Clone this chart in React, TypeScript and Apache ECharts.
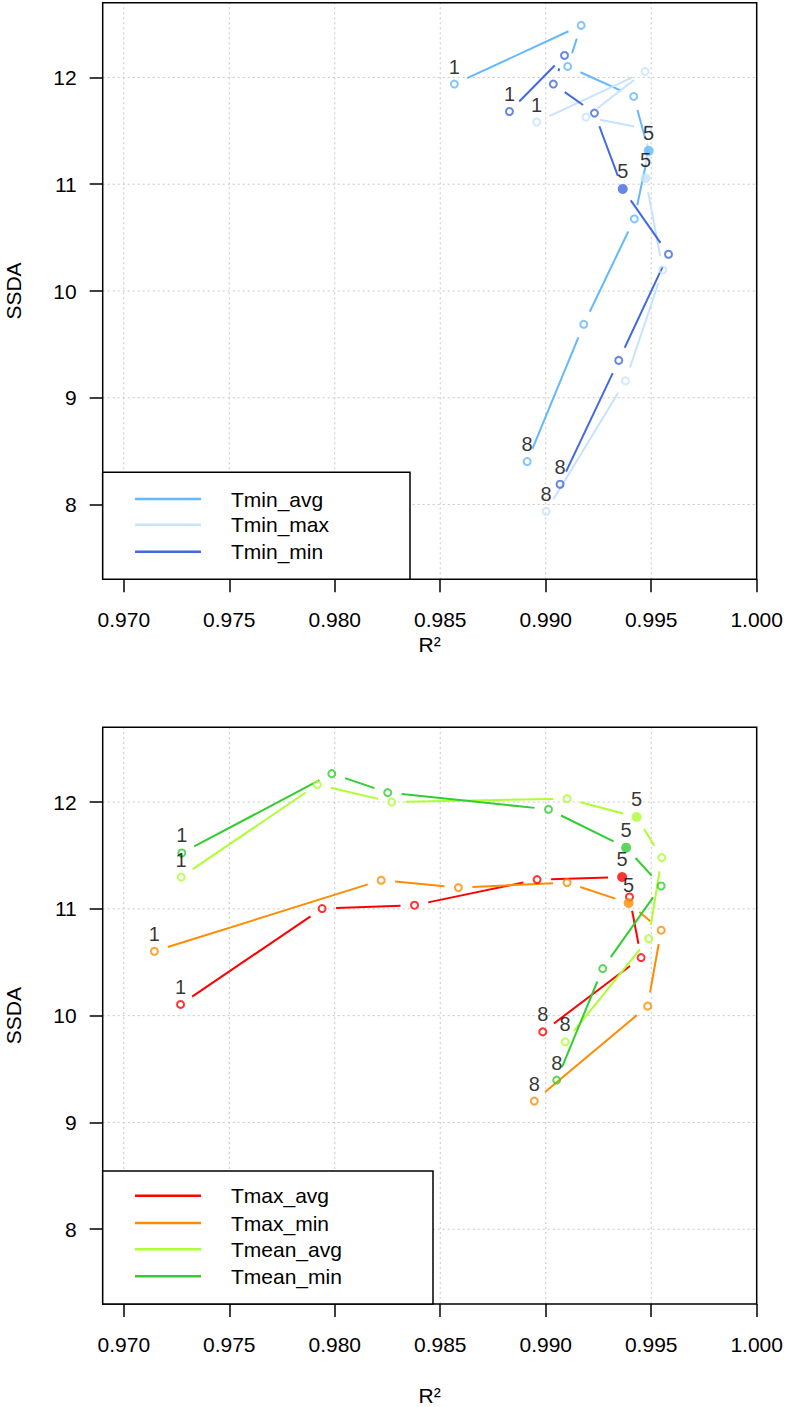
import React, { useEffect, useRef } from "react";
import * as echarts from "echarts";

// ---- data ----
const xTicks = [0.97, 0.975, 0.98, 0.985, 0.99, 0.995, 1.0];
const yTicks = [8, 9, 10, 11, 12];
const pointLabels = ["1", "", "", "", "5", "", "", "8"];
const filledIndex = 4;

const topNames = ["Tmin_avg", "Tmin_max", "Tmin_min"];
const topColors = ["#63B8FF", "#C6E2FF", "#4169E1"];
const tminAvgR2 = [0.98567, 0.99168, 0.99104, 0.99417, 0.99488, 0.9942, 0.9918, 0.98912];
const tminAvgSSDA = [11.938, 12.488, 12.103, 11.822, 11.313, 10.675, 9.688, 8.403];
const tminMaxR2 = [0.98957, 0.99471, 0.99191, 0.99485, 0.99473, 0.99555, 0.99378, 0.99002];
const tminMaxSSDA = [11.582, 12.056, 11.629, 11.515, 11.057, 10.197, 9.159, 7.937];
const tminMinR2 = [0.98828, 0.99089, 0.99036, 0.99231, 0.99365, 0.99582, 0.99346, 0.99068];
const tminMinSSDA = [11.681, 12.206, 11.938, 11.666, 10.956, 10.344, 9.35, 8.19];

const bottomNames = ["Tmax_avg", "Tmax_min", "Tmean_avg", "Tmean_min"];
const bottomColors = ["#FF0000", "#FF8C00", "#ADFF2F", "#32CD32"];
const tmaxAvgR2 = [0.97269, 0.9794, 0.98378, 0.98959, 0.99362, 0.99397, 0.99452, 0.98986];
const tmaxAvgSSDA = [10.105, 11.003, 11.034, 11.274, 11.298, 11.111, 10.544, 9.848];
const tmaxMinR2 = [0.97145, 0.9822, 0.98586, 0.99101, 0.99393, 0.99547, 0.99483, 0.98946];
const tmaxMinSSDA = [10.603, 11.268, 11.199, 11.246, 11.055, 10.8, 10.089, 9.2];
const tmeanAvgR2 = [0.97272, 0.97917, 0.9827, 0.99101, 0.99431, 0.9955, 0.99488, 0.99092];
const tmeanAvgSSDA = [11.298, 12.163, 12.0, 12.032, 11.86, 11.48, 10.722, 9.755];
const tmeanMinR2 = [0.97275, 0.97986, 0.98251, 0.99013, 0.99381, 0.99547, 0.9927, 0.99052];
const tmeanMinSSDA = [11.523, 12.266, 12.088, 11.932, 11.573, 11.214, 10.441, 9.397];

const xMin = 0.969;
const xMax = 1.0;
const yMin = 7.3;
const yMax = 12.7;

const FONT = "'Liberation Sans', Arial, sans-serif";

export default function App() {
  const ref = useRef<HTMLDivElement>(null);
  useEffect(() => {
    if (!ref.current) return;
    const chart = echarts.init(ref.current, null, { renderer: "svg" });

    const GAP = 14;
    const segSeries = (color: string, xs: number[], ys: number[], g: number) => ({
      type: "custom",
      xAxisIndex: g,
      yAxisIndex: g,
      silent: true,
      z: 3,
      data: xs.slice(0, -1).map((x, i) => [x, ys[i], xs[i + 1], ys[i + 1]]),
      renderItem: (params: any, api: any) => {
        const p1 = api.coord([api.value(0), api.value(1)]);
        const p2 = api.coord([api.value(2), api.value(3)]);
        const dx = p2[0] - p1[0];
        const dy = p2[1] - p1[1];
        const d = Math.sqrt(dx * dx + dy * dy);
        if (d <= 2 * GAP) return { type: "group", children: [] };
        const ux = dx / d;
        const uy = dy / d;
        return {
          type: "line",
          shape: {
            x1: p1[0] + ux * GAP,
            y1: p1[1] + uy * GAP,
            x2: p2[0] - ux * GAP,
            y2: p2[1] - uy * GAP,
          },
          style: { stroke: color, lineWidth: 2 },
        };
      },
    });

    const ptSeries = (name: string, color: string, xs: number[], ys: number[], g: number) => ({
      type: "scatter",
      name,
      xAxisIndex: g,
      yAxisIndex: g,
      silent: true,
      z: 4,
      data: xs.map((x, i) => ({
        value: [x, ys[i]],
        symbol: "circle",
        symbolSize: i === filledIndex ? 10 : 7,
        itemStyle:
          i === filledIndex
            ? { color, borderWidth: 0 }
            : { color: "rgba(0,0,0,0)", borderColor: color, borderWidth: 2 },
        label: {
          show: pointLabels[i] !== "",
          formatter: pointLabels[i],
        },
      })),
      label: {
        position: "top",
        distance: 3,
        color: "#000",
        fontSize: 20,
        fontFamily: FONT,
      },
    });

    const gridLines = (g: number) => [
      {
        type: "custom",
        xAxisIndex: g,
        yAxisIndex: g,
        silent: true,
        z: 1,
        data: xTicks.map((v) => [v]),
        renderItem: (params: any, api: any) => {
          const a = api.coord([api.value(0), yMin]);
          const b = api.coord([api.value(0), yMax]);
          return {
            type: "line",
            shape: { x1: a[0], y1: a[1], x2: b[0], y2: b[1] },
            style: { stroke: "#C8C8C8", lineWidth: 1, lineDash: [2, 3] },
          };
        },
      },
      {
        type: "custom",
        xAxisIndex: g,
        yAxisIndex: g,
        silent: true,
        z: 1,
        data: yTicks.map((v) => [v]),
        renderItem: (params: any, api: any) => {
          const a = api.coord([xMin, api.value(0)]);
          const b = api.coord([xMax, api.value(0)]);
          return {
            type: "line",
            shape: { x1: a[0], y1: a[1], x2: b[0], y2: b[1] },
            style: { stroke: "#C8C8C8", lineWidth: 1, lineDash: [2, 3] },
          };
        },
      },
    ];

    const xAxisCfg = (g: number, nameGap: number) => ({
      type: "value",
      gridIndex: g,
      min: xMin,
      max: xMax,
      name: "R²",
      nameLocation: "middle",
      nameGap,
      nameTextStyle: { fontSize: 21, fontFamily: FONT, color: "#000" },
      axisLine: { show: false },
      splitLine: { show: false },
      axisTick: {
        show: true,
        length: 13,
        lineStyle: { color: "#000", width: 1.5 },
        customValues: xTicks,
      },
      axisLabel: {
        show: true,
        margin: 30,
        fontSize: 21,
        fontFamily: FONT,
        color: "#000",
        customValues: xTicks,
        formatter: (v: number) => v.toFixed(3),
      },
    });

    const yAxisCfg = (g: number) => ({
      type: "value",
      gridIndex: g,
      min: yMin,
      max: yMax,
      name: "SSDA",
      nameLocation: "middle",
      nameGap: 79,
      nameTextStyle: { fontSize: 21, fontFamily: FONT, color: "#000" },
      axisLine: { show: false },
      splitLine: { show: false },
      axisTick: {
        show: true,
        length: 13,
        lineStyle: { color: "#000", width: 1.5 },
        customValues: yTicks,
      },
      axisLabel: {
        show: true,
        margin: 26,
        fontSize: 21,
        fontFamily: FONT,
        color: "#000",
        customValues: yTicks,
        formatter: (v: number) => String(v),
      },
    });

    const legendGroup = (
      names: string[],
      colors: string[],
      x: number,
      y: number,
      w: number,
      h: number,
      rows: number[]
    ) => {
      const children: any[] = [
        {
          type: "rect",
          shape: { x, y, width: w, height: h },
          style: { fill: "#fff", stroke: "#000", lineWidth: 1.5 },
          z: 20,
        },
      ];
      names.forEach((n, i) => {
        children.push({
          type: "line",
          shape: { x1: 135, y1: rows[i], x2: 201, y2: rows[i] },
          style: { stroke: colors[i], lineWidth: 2.5 },
          z: 21,
        });
        children.push({
          type: "text",
          x: 231,
          y: rows[i],
          style: {
            text: n,
            fill: "#000",
            fontSize: 21,
            fontFamily: FONT,
            verticalAlign: "middle",
            textVerticalAlign: "middle",
          },
          z: 21,
        });
      });
      return children;
    };

    const topSets = [
      [tminAvgR2, tminAvgSSDA],
      [tminMaxR2, tminMaxSSDA],
      [tminMinR2, tminMinSSDA],
    ];
    const bottomSets = [
      [tmaxAvgR2, tmaxAvgSSDA],
      [tmaxMinR2, tmaxMinSSDA],
      [tmeanAvgR2, tmeanAvgSSDA],
      [tmeanMinR2, tmeanMinSSDA],
    ];

    const series: any[] = [...gridLines(0), ...gridLines(1)];
    topSets.forEach(([xs, ys], i) => {
      series.push(segSeries(topColors[i], xs, ys, 0));
    });
    topSets.forEach(([xs, ys], i) => {
      series.push(ptSeries(topNames[i], topColors[i], xs, ys, 0));
    });
    bottomSets.forEach(([xs, ys], i) => {
      series.push(segSeries(bottomColors[i], xs, ys, 1));
    });
    bottomSets.forEach(([xs, ys], i) => {
      series.push(ptSeries(bottomNames[i], bottomColors[i], xs, ys, 1));
    });

    chart.setOption({
      animation: false,
      backgroundColor: "#fff",
      textStyle: { fontFamily: FONT },
      grid: [
        {
          left: 102.7,
          top: 2.7,
          width: 654,
          height: 576.6,
          show: true,
          borderColor: "#000",
          borderWidth: 1.5,
          backgroundColor: "transparent",
          containLabel: false,
          outerBoundsMode: "none",
          z: 5,
        },
        {
          left: 102.7,
          top: 727.3,
          width: 654,
          height: 576.7,
          show: true,
          borderColor: "#000",
          borderWidth: 1.5,
          backgroundColor: "transparent",
          containLabel: false,
          outerBoundsMode: "none",
          z: 5,
        },
      ],
      xAxis: [xAxisCfg(0, 55), xAxisCfg(1, 81)],
      yAxis: [yAxisCfg(0), yAxisCfg(1)],
      series,
      graphic: [
        ...legendGroup(topNames, topColors, 102.7, 472.3, 307.3, 107, [499, 524.8, 551.7]),
        ...legendGroup(bottomNames, bottomColors, 102.7, 1171, 330.3, 133, [1195.7, 1223, 1249.3, 1276.3]),
      ],
    });

    return () => chart.dispose();
  }, []);

  return (
    <div
      ref={ref}
      style={{ position: "absolute", left: 0, top: 0, width: 786, height: 1407 }}
    />
  );
}
